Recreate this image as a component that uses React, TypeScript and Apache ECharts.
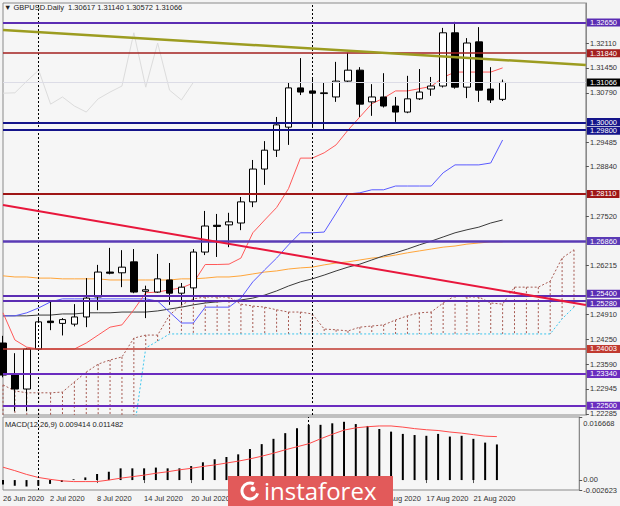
import React, { useEffect, useRef } from 'react';
import * as echarts from 'echarts';

const dates = [
  '26 Jun 2020', '29 Jun 2020', '30 Jun 2020', '1 Jul 2020', '2 Jul 2020', '3 Jul 2020', '6 Jul 2020', '7 Jul 2020',
  '8 Jul 2020', '9 Jul 2020', '10 Jul 2020', '13 Jul 2020', '14 Jul 2020', '15 Jul 2020', '16 Jul 2020', '17 Jul 2020',
  '20 Jul 2020', '21 Jul 2020', '22 Jul 2020', '23 Jul 2020', '24 Jul 2020', '27 Jul 2020', '28 Jul 2020', '29 Jul 2020',
  '30 Jul 2020', '31 Jul 2020', '3 Aug 2020', '4 Aug 2020', '5 Aug 2020', '6 Aug 2020', '7 Aug 2020', '10 Aug 2020',
  '11 Aug 2020', '12 Aug 2020', '13 Aug 2020', '14 Aug 2020', '17 Aug 2020', '18 Aug 2020', '19 Aug 2020', '20 Aug 2020',
  '21 Aug 2020', '24 Aug 2020', '25 Aug 2020',
];
const futureSlots = ['+1', '+2', '+3', '+4', '+5', '+6', '+7'];

const opens = [1.2416, 1.2334, 1.2294, 1.2400, 1.2474, 1.2468, 1.2466, 1.2485, 1.2538, 1.2604,
  1.2602, 1.2631, 1.2553, 1.2551, 1.2583, 1.2548, 1.2562, 1.2657, 1.2728, 1.2729,
  1.2734, 1.2790, 1.2877, 1.2927, 1.2988, 1.3092, 1.3084, 1.3077, 1.3068, 1.3110,
  1.3139, 1.3055, 1.3068, 1.3044, 1.3028, 1.3063, 1.3089, 1.3097, 1.3238, 1.3094,
  1.3214, 1.3089, 1.30617];
const highs = [1.2435, 1.2389, 1.2403, 1.2482, 1.2527, 1.2482, 1.2519, 1.2588, 1.2623, 1.2668,
  1.2662, 1.2665, 1.2568, 1.2652, 1.2628, 1.2575, 1.2665, 1.2766, 1.2758, 1.2761,
  1.2803, 1.2901, 1.2951, 1.3015, 1.3105, 1.3171, 1.3118, 1.3105, 1.3161, 1.3185,
  1.3147, 1.3102, 1.3131, 1.3068, 1.3124, 1.3142, 1.3121, 1.3251, 1.3267, 1.3224,
  1.3253, 1.3147, 1.31140];
const lows = [1.2325, 1.2235, 1.2235, 1.2395, 1.2450, 1.2436, 1.2460, 1.2458, 1.2503, 1.2598,
  1.2564, 1.2548, 1.2482, 1.2549, 1.2517, 1.2517, 1.2525, 1.2649, 1.2644, 1.2670,
  1.2715, 1.2776, 1.2835, 1.2909, 1.2941, 1.3073, 1.2986, 1.2983, 1.3055, 1.3106,
  1.3015, 1.3018, 1.3040, 1.3002, 1.3025, 1.3060, 1.3071, 1.3093, 1.3090, 1.3065,
  1.3055, 1.3052, 1.30572];
const closes = [1.2331, 1.2294, 1.2400, 1.2472, 1.2470, 1.2478, 1.2485, 1.2535, 1.2604, 1.2601,
  1.2617, 1.2551, 1.2557, 1.2586, 1.2548, 1.2564, 1.2657, 1.2726, 1.2725, 1.2737,
  1.2790, 1.2877, 1.2927, 1.2994, 1.3092, 1.3081, 1.3078, 1.3079, 1.3110, 1.3139,
  1.3049, 1.3068, 1.3044, 1.3028, 1.3063, 1.3081, 1.3097, 1.3238, 1.3094, 1.3211,
  1.3086, 1.3060, 1.31066];

const tenkan = [1.2496, 1.2424, 1.2405, 1.2400, 1.2400, 1.2400, 1.2400, 1.2416, 1.2437, 1.2458,
  1.2464, 1.2504, 1.2549, 1.2551, 1.2557, 1.2562, 1.2575, 1.2624, 1.2624, 1.2625,
  1.2641, 1.2708, 1.2742, 1.2775, 1.2825, 1.2906, 1.2906, 1.2920, 1.2941, 1.2980,
  1.3015, 1.3050, 1.3065, 1.3084, 1.3084, 1.3090, 1.3096, 1.3120, 1.3134, 1.3134,
  1.3134, 1.3134, 1.3145];
const kijun = [1.2488, 1.2488, 1.2496, 1.2509, 1.2525, 1.2533, 1.2533, 1.2533, 1.2533, 1.2533,
  1.2533, 1.2533, 1.2533, 1.2527, 1.2498, 1.2469, 1.2469, 1.2511, 1.2511, 1.2511,
  1.2535, 1.2578, 1.2610, 1.2641, 1.2676, 1.2708, 1.2708, 1.2710, 1.2760, 1.2811,
  1.2814, 1.2822, 1.2822, 1.2832, 1.2832, 1.2832, 1.2832, 1.2867, 1.2888, 1.2888,
  1.2888, 1.2893, 1.2954];
const spanA = [1.2305, 1.2289, 1.2284, 1.2284, 1.2284, 1.2286, 1.2313, 1.2339, 1.2360, 1.2371,
  1.2379, 1.2429, 1.2437, 1.2437, 1.2490, 1.2517, 1.2533, 1.2538, 1.2538, 1.2538,
  1.2519, 1.2514, 1.2511, 1.2504, 1.2498, 1.2498, 1.2493, 1.2453, 1.2451, 1.2448,
  1.2458, 1.2461, 1.2464, 1.2477, 1.2488, 1.2496, 1.2498, 1.2522, 1.2541, 1.2538,
  1.2538, 1.2522, 1.2519, 1.2564, 1.2564, 1.2564, 1.2580, 1.2641, 1.2663];
const spanB = [1.2030, 1.2030, 1.2030, 1.2030, 1.2030, 1.2030, 1.2030, 1.2030, 1.2030, 1.2030,
  1.2030, 1.2180, 1.2403, 1.2421, 1.2440, 1.2440, 1.2440, 1.2440, 1.2440, 1.2440,
  1.2440, 1.2440, 1.2440, 1.2440, 1.2440, 1.2440, 1.2440, 1.2440, 1.2440, 1.2440,
  1.2440, 1.2440, 1.2440, 1.2440, 1.2440, 1.2440, 1.2440, 1.2440, 1.2440, 1.2440,
  1.2440, 1.2440, 1.2440, 1.2440, 1.2440, 1.2440, 1.2440, 1.2480, 1.2511];
const maBlack = [1.2488, 1.2488, 1.2488, 1.2490, 1.2490, 1.2493, 1.2493, 1.2496, 1.2496, 1.2496,
  1.2498, 1.2498, 1.2498, 1.2501, 1.2506, 1.2511, 1.2517, 1.2522, 1.2525, 1.2527,
  1.2530, 1.2535, 1.2543, 1.2554, 1.2567, 1.2578, 1.2586, 1.2596, 1.2607, 1.2617,
  1.2625, 1.2636, 1.2647, 1.2655, 1.2665, 1.2676, 1.2686, 1.2697, 1.2708, 1.2716,
  1.2723, 1.2734, 1.2742];
const maOrange = [1.2594, 1.2591, 1.2591, 1.2588, 1.2588, 1.2586, 1.2586, 1.2586, 1.2586, 1.2583,
  1.2583, 1.2583, 1.2583, 1.2583, 1.2583, 1.2586, 1.2586, 1.2588, 1.2591, 1.2591,
  1.2594, 1.2599, 1.2604, 1.2607, 1.2612, 1.2615, 1.2617, 1.2623, 1.2628, 1.2631,
  1.2636, 1.2641, 1.2644, 1.2649, 1.2655, 1.2660, 1.2665, 1.2670, 1.2673, 1.2678,
  1.2681, 1.2684, 1.2684];

const macdHist = [-0.0012, -0.0015, -0.0017, -0.0015, -0.0010, -0.0005, 0.0002, 0.0007, 0.0016, 0.0022,
  0.0031, 0.0031, 0.0031, 0.0033, 0.0031, 0.0031, 0.0037, 0.0047, 0.0055, 0.0061,
  0.0068, 0.0082, 0.0095, 0.0109, 0.0124, 0.0137, 0.0146, 0.0146, 0.0150, 0.0154,
  0.0148, 0.0143, 0.0135, 0.0128, 0.0122, 0.0119, 0.0117, 0.0122, 0.0115, 0.0117,
  0.0109, 0.0099, 0.009414];
const macdSignal = [0.0034, 0.0025, 0.0015, 0.0007, 0.0002, -0.0002, -0.0004, -0.0004, -0.0004, 0.0000,
  0.0005, 0.0009, 0.0013, 0.0018, 0.0022, 0.0027, 0.0031, 0.0036, 0.0040, 0.0045,
  0.0050, 0.0056, 0.0063, 0.0071, 0.0080, 0.0088, 0.0096, 0.0109, 0.0121, 0.0132,
  0.0138, 0.0141, 0.0143, 0.0143, 0.0140, 0.0136, 0.0133, 0.0131, 0.0127, 0.0124,
  0.0120, 0.0116, 0.011482];

const priceTicks = [1.32110, 1.31450, 1.30790, 1.29485, 1.28840, 1.27520, 1.26215, 1.24910, 1.24250, 1.23590, 1.22945, 1.22285];
const macdTicks = [0.016668, 0, -0.002623];

const levelValues = [1.3265, 1.3184, 1.3, 1.298, 1.2811, 1.2686, 1.254, 1.2528, 1.24003, 1.2334, 1.225];
const bidPrice = 1.31066;
const olivePoints = [1.32455, 1.31527];
const redPoints = [1.27817, 1.25167];
const separatorDates = ['1 Jul 2020', '3 Aug 2020'];
const hiddenLabelDates = ['24 Jul 2020', '30 Jul 2020', '5 Aug 2020'];

const levelStyles = [
  { color: '#5b2db3', width: 2, dy: 0 },
  { color: '#a3201f', width: 1.5, dy: 0 },
  { color: '#14148a', width: 2, dy: -0.5 },
  { color: '#14148a', width: 2, dy: 0.5 },
  { color: '#9e1616', width: 2, dy: 0 },
  { color: '#5a3bb5', width: 2.5, dy: 0 },
  { color: '#5b2db3', width: 2, dy: -2.5 },
  { color: '#5b2db3', width: 2, dy: 2.5 },
  { color: '#c0392f', width: 1.5, dy: 0 },
  { color: '#6a2cbf', width: 2, dy: 0 },
  { color: '#6a2cbf', width: 2, dy: 0 },
];

const PRICE_MIN = 1.22252;
const PRICE_MAX = 1.3317;
const FONT = "'Liberation Sans', Arial, sans-serif";

function pad(arr: (number | null)[], n: number) {
  const out = arr.slice();
  while (out.length < n) out.push(null);
  return out;
}

function buildOption() {
  const categories = dates.concat(futureSlots);
  const N = categories.length;
  const lastIdx = N - 1;
  const candles = dates.map((_, i) => [opens[i], closes[i], lows[i], highs[i]]);
  const chikou = pad(closes.slice(26), N);
  const hatch = spanA.map((a, i) => [i, a, spanB[i]]);

  const labelInterval = (idx: number, val: string) =>
    idx % 4 === 0 && idx < dates.length && hiddenLabelDates.indexOf(val) < 0;

  const boxLabel = (text: string, bg: string, dy: number) => ({
    show: true, position: 'end', formatter: text, color: '#ffffff',
    backgroundColor: bg, padding: [0, 3, 0, 3], distance: 1, offset: [0, dy],
    fontSize: 7.5, fontFamily: FONT, lineHeight: 8,
  });

  const levelData: any[] = levelValues.map((v, i) => ({
    yAxis: v,
    lineStyle: { color: levelStyles[i].color, width: levelStyles[i].width, type: 'solid' },
    label: boxLabel(v.toFixed(5), levelStyles[i].color, levelStyles[i].dy),
  }));
  levelData.push({
    yAxis: bidPrice,
    lineStyle: { color: '#dcdce6', width: 1, type: 'solid' },
    label: boxLabel(bidPrice.toFixed(5), '#000000', 0),
  });
  levelData.push([
    { coord: [0, olivePoints[0]], lineStyle: { color: '#9c9c20', width: 2.5, type: 'solid' }, label: { show: false } },
    { coord: [lastIdx, olivePoints[1]] },
  ]);
  levelData.push([
    { coord: [0, redPoints[0]], lineStyle: { color: '#e8173c', width: 2, type: 'solid' }, label: { show: false } },
    { coord: [lastIdx, redPoints[1]] },
  ]);

  const sepLine = (names: string[]) => ({
    silent: true,
    symbol: ['none', 'none'],
    label: { show: false },
    lineStyle: { color: '#000000', width: 1, type: [2, 2] },
    data: names.map((d) => ({ xAxis: d })),
  });

  const lineSeries = (data: (number | null)[], color: string, z: number, dash?: number[]) => ({
    type: 'line', xAxisIndex: 0, yAxisIndex: 0, data: pad(data, N), symbol: 'none', silent: true,
    lineStyle: { color, width: 1, type: dash || 'solid' }, z,
  });

  const macdLabelStyle = { fontSize: 7.5, color: '#333', fontFamily: FONT, lineHeight: 8 };

  return {
    animation: false,
    backgroundColor: '#f4f4f4',
    textStyle: { fontFamily: FONT },
    grid: [
      { left: 3, width: 583, top: 3, height: 412, show: true, borderColor: '#8a8a8a', borderWidth: 1, backgroundColor: '#f6f6f6' },
      { left: 3, width: 583, top: 417, height: 73, show: true, borderColor: '#8a8a8a', borderWidth: 1, backgroundColor: '#f6f6f6' },
    ],
    xAxis: [
      {
        type: 'category', gridIndex: 0, data: categories, boundaryGap: false,
        axisLine: { show: false }, axisTick: { show: false }, axisLabel: { show: false }, splitLine: { show: false },
      },
      {
        type: 'category', gridIndex: 1, data: categories, boundaryGap: false,
        axisLine: { show: false },
        axisTick: { show: true, interval: labelInterval, length: 3, lineStyle: { color: '#555' } },
        axisLabel: { interval: labelInterval, align: 'left', fontSize: 7.5, color: '#333', margin: 4, fontFamily: FONT },
        splitLine: { show: false },
      },
    ],
    yAxis: [
      {
        type: 'value', gridIndex: 0, position: 'right', min: PRICE_MIN, max: PRICE_MAX,
        splitLine: { show: false },
        axisLine: { show: true, lineStyle: { color: '#8a8a8a' } },
        axisTick: { show: true, length: 3, customValues: priceTicks, lineStyle: { color: '#555' } },
        axisLabel: {
          customValues: priceTicks, formatter: (v: number) => v.toFixed(5), showMinLabel: true, showMaxLabel: true,
          fontSize: 7.5, color: '#333', margin: 4, fontFamily: FONT, lineHeight: 8,
        },
      },
      {
        type: 'value', gridIndex: 1, position: 'right', min: -0.002623, max: 0.016668,
        splitLine: { show: false },
        axisLine: { show: true, lineStyle: { color: '#8a8a8a' } },
        axisTick: { show: true, length: 3, customValues: macdTicks, lineStyle: { color: '#555' } },
        axisLabel: {
          customValues: macdTicks, showMinLabel: true, showMaxLabel: true,
          formatter: (v: number) => (v === 0 ? '{z|0.00}' : v > 0 ? `{t|${v.toFixed(6)}}` : `{b|${v.toFixed(6)}}`),
          margin: 4,
          rich: {
            t: { ...macdLabelStyle, padding: [12, 0, 0, 0] },
            z: { ...macdLabelStyle, padding: [0, 0, 2, 0] },
            b: { ...macdLabelStyle },
          },
        },
      },
    ],
    series: [
      {
        type: 'custom', xAxisIndex: 0, yAxisIndex: 0, data: hatch, z: 1, silent: true,
        encode: { x: 0, y: [1, 2] },
        renderItem: (params: any, api: any) => {
          const i = api.value(0);
          const a = api.value(1);
          const b = api.value(2);
          const hi = Math.min(Math.max(a, b), PRICE_MAX);
          const lo = Math.max(Math.min(a, b), PRICE_MIN);
          const p1 = api.coord([i, hi]);
          const p2 = api.coord([i, lo]);
          return {
            type: 'line',
            shape: { x1: p1[0], y1: p1[1], x2: p2[0], y2: p2[1] },
            style: { stroke: '#a65a52', lineWidth: 1, lineDash: [2, 2] },
          };
        },
      },
      lineSeries(spanA, '#a65a52', 1, [2, 2]),
      lineSeries(spanB, '#3cc6ee', 1, [2, 2]),
      lineSeries(chikou, '#dcdcdc', 1),
      lineSeries(maOrange, '#ffa53a', 2),
      lineSeries(maBlack, '#3a3a3a', 2),
      lineSeries(kijun, '#5a5aff', 2),
      lineSeries(tenkan, '#ff5a5a', 2),
      {
        type: 'candlestick', xAxisIndex: 0, yAxisIndex: 0, data: candles, barWidth: 7, z: 3, silent: true,
        itemStyle: { color: '#ffffff', color0: '#000000', borderColor: '#000000', borderColor0: '#000000', borderWidth: 1 },
        markLine: sepLine(separatorDates),
      },
      {
        type: 'line', xAxisIndex: 0, yAxisIndex: 0, data: pad([], N), symbol: 'none', z: 5, silent: true,
        markLine: { silent: true, precision: 5, symbol: ['none', 'none'], data: levelData },
      },
      {
        type: 'bar', xAxisIndex: 1, yAxisIndex: 1, data: pad(macdHist, N), barWidth: 2, silent: true,
        itemStyle: { color: '#000000' },
        markLine: sepLine(separatorDates),
      },
      {
        type: 'line', xAxisIndex: 1, yAxisIndex: 1, data: pad(macdSignal, N), symbol: 'none', silent: true,
        lineStyle: { color: '#ff4a4a', width: 1 },
      },
    ],
    graphic: [
      {
        type: 'text', left: 4, top: 3, z: 50,
        style: { text: '▼ GBPUSD.Daily  1.30617 1.31140 1.30572 1.31066', fill: '#222', font: `7.5px ${FONT}` },
      },
      {
        type: 'text', left: 5, top: 420, z: 50,
        style: { text: 'MACD(12,26,9) 0.009414 0.011482', fill: '#222', font: `7.5px ${FONT}` },
      },
      {
        type: 'rect', z: 100, shape: { x: 228, y: 476, width: 165, height: 30 },
        style: { fill: '#e25a5a' },
      },
      {
        type: 'arc', z: 101, shape: { cx: 250, cy: 491, r: 8, startAngle: 0.3, endAngle: 5.2 },
        style: { stroke: '#ffffff', lineWidth: 3, fill: 'none' },
      },
      {
        type: 'circle', z: 101, shape: { cx: 253, cy: 489, r: 2.5 },
        style: { fill: '#ffffff' },
      },
      {
        type: 'text', z: 101, left: 264, top: 478,
        style: { text: 'instaforex', fill: '#ffffff', font: "24px 'Open Sans', 'Liberation Sans', sans-serif" },
      },
    ],
  };
}

export default function App() {
  const ref = useRef<HTMLDivElement>(null);
  useEffect(() => {
    const chart = echarts.init(ref.current as HTMLDivElement, null, { renderer: 'svg' });
    chart.setOption(buildOption() as any);
    return () => chart.dispose();
  }, []);
  return <div ref={ref} style={{ position: 'fixed', left: 0, top: 0, width: 620, height: 506 }} />;
}
